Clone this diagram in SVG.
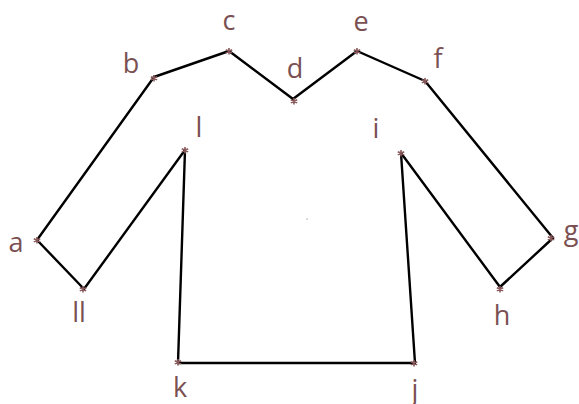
<svg xmlns="http://www.w3.org/2000/svg" width="579" height="404" viewBox="0 0 579 404">
<style>
.edge{stroke:#000;stroke-width:2.4;stroke-linecap:round;fill:none}
.lbl{font-family:"Open Sans","Liberation Sans",sans-serif;font-size:27px;fill:#7a5052;text-anchor:middle}
.star{stroke:#8a5a5c;stroke-width:1.6;fill:none}
</style>
<defs>
<path id="ast" class="star" d="M0,-3V3.5M-3.2,-1.2L3.2,1.8M-3.2,1.8L3.2,-1.2"/>
</defs>
<rect width="579" height="404" fill="#fff"/>
<g id="connectors">
<line class="edge" x1="37" y1="240" x2="154" y2="77"/>
<line class="edge" x1="154" y1="77" x2="229" y2="51"/>
<line class="edge" x1="229" y1="51" x2="293" y2="99"/>
<line class="edge" x1="293" y1="99" x2="357" y2="51"/>
<line class="edge" x1="357" y1="51" x2="425" y2="81"/>
<line class="edge" x1="425" y1="81" x2="553" y2="238"/>
<line class="edge" x1="553" y1="238" x2="500" y2="287"/>
<line class="edge" x1="500" y1="287" x2="401" y2="153"/>
<line class="edge" x1="401" y1="153" x2="415" y2="363"/>
<line class="edge" x1="415" y1="363" x2="178" y2="363"/>
<line class="edge" x1="178" y1="363" x2="185" y2="150"/>
<line class="edge" x1="185" y1="150" x2="84" y2="289"/>
<line class="edge" x1="84" y1="289" x2="37" y2="240"/>
</g>
<g id="node-a"><use href="#ast" x="37" y="240"/><text class="lbl" x="16" y="252">a</text></g>
<g id="node-b"><use href="#ast" x="154" y="78"/><text class="lbl" x="131" y="73">b</text></g>
<g id="node-c"><use href="#ast" x="229" y="51"/><text class="lbl" x="229" y="30">c</text></g>
<g id="node-d"><use href="#ast" x="294" y="101"/><text class="lbl" x="295" y="78">d</text></g>
<g id="node-e"><use href="#ast" x="357" y="51"/><text class="lbl" x="361" y="31">e</text></g>
<g id="node-f"><use href="#ast" x="425" y="81"/><text class="lbl" x="438" y="68">f</text></g>
<g id="node-g"><use href="#ast" x="551" y="238"/><text class="lbl" x="571" y="240">g</text></g>
<g id="node-h"><use href="#ast" x="500" y="289"/><text class="lbl" x="502" y="325">h</text></g>
<g id="node-i"><use href="#ast" x="401" y="153"/><text class="lbl" x="376" y="138">i</text></g>
<g id="node-j"><use href="#ast" x="414" y="363"/><text class="lbl" x="415" y="399">j</text></g>
<g id="node-k"><use href="#ast" x="178" y="362"/><text class="lbl" x="180" y="397">k</text></g>
<g id="node-l"><use href="#ast" x="185" y="150"/><text class="lbl" x="199" y="137">l</text></g>
<g id="node-ll"><use href="#ast" x="83" y="289"/><text class="lbl" x="79" y="322">ll</text></g>
<circle cx="307" cy="219" r="0.9" fill="#c8c8c8"/>
</svg>
